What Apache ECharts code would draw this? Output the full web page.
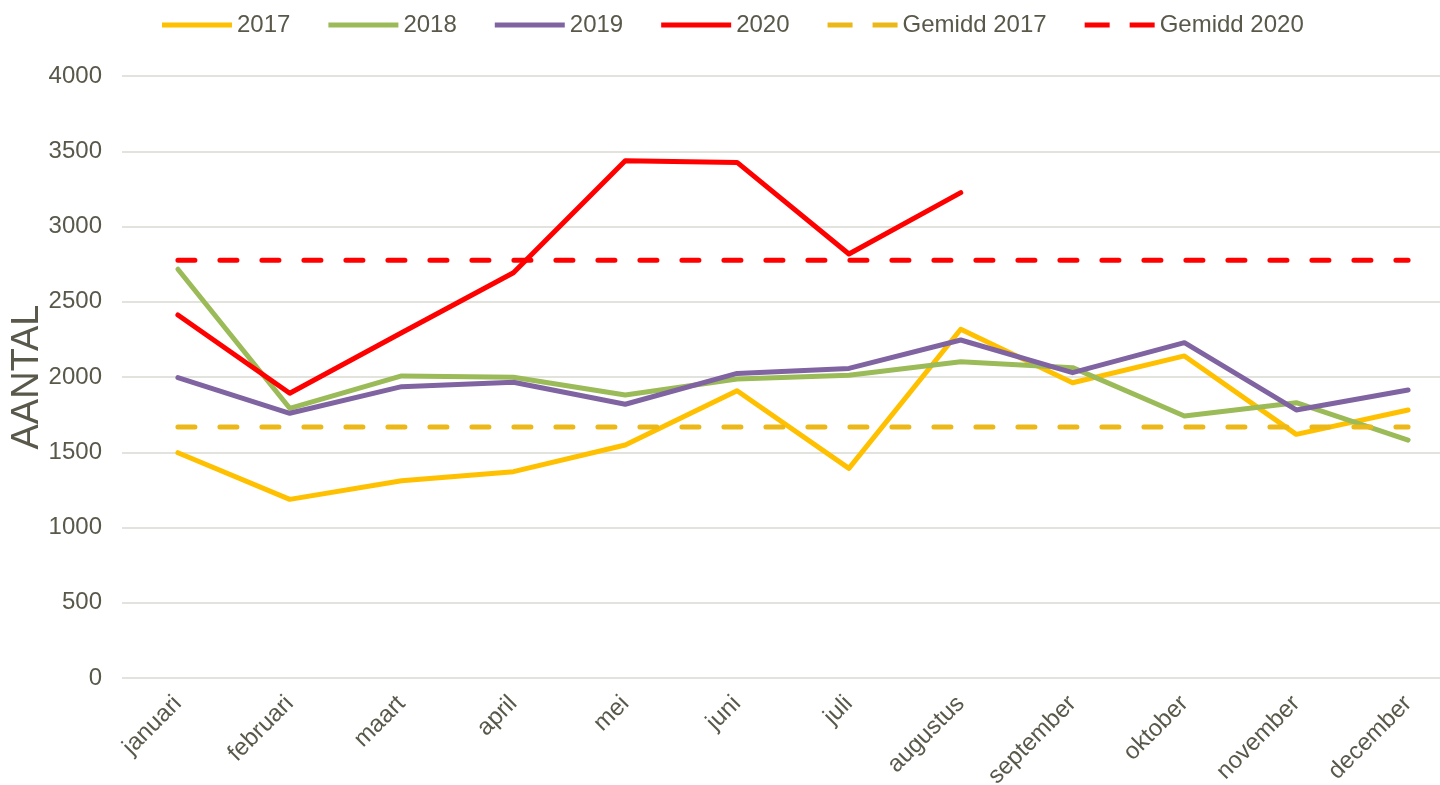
<!DOCTYPE html>
<html>
<head>
<meta charset="utf-8">
<script src="https://cdn.jsdelivr.net/npm/echarts@6/dist/echarts.min.js"></script>
<style>
  html, body { margin: 0; padding: 0; background: #fff; overflow: hidden; }
  /* de grafiek loopt rechts iets voorbij de rand, zoals in het origineel */
  #chart { width: 1464px; height: 785px; }
</style>
</head>
<body>
<div id="chart"></div>
<script>
// maanden en waarden
const months = ['januari', 'februari', 'maart', 'april', 'mei', 'juni', 'juli', 'augustus', 'september', 'oktober', 'november', 'december'];
const y2017 = [1497, 1187, 1311, 1371, 1548, 1909, 1393, 2317, 1962, 2140, 1619, 1781];
const y2018 = [2716, 1792, 2007, 1998, 1880, 1987, 2011, 2102, 2062, 1741, 1829, 1581];
const y2019 = [1996, 1759, 1936, 1965, 1819, 2024, 2057, 2246, 2029, 2228, 1781, 1914];
const y2020 = [2412, 1892, 2294, 2693, 3437, 3426, 2817, 3225];
const gem2017 = [1668, 1668, 1668, 1668, 1668, 1668, 1668, 1668, 1668, 1668, 1668, 1668];
const gem2020 = [2775, 2775, 2775, 2775, 2775, 2775, 2775, 2775, 2775, 2775, 2775, 2775];
const yTicks = { min: 0, max: 4000, interval: 500 };

const textColor = '#59584a';
const font = "'Liberation Sans', Arial, sans-serif";
const solidIcon = 'path://M0,0h70v5h-70z';
const dashIcon = 'path://M0,0h25v5h-25z M45,0h25v5h-25z';

function solid(name, data, color) {
  return {
    name, type: 'line', data, symbol: 'none', silent: true,
    lineStyle: { color, width: 5, cap: 'round', join: 'round' },
    itemStyle: { color }
  };
}
function dashed(name, data, color) {
  return {
    name, type: 'line', data, symbol: 'none', silent: true,
    lineStyle: { color, width: 5, type: [17, 25], cap: 'round' },
    itemStyle: { color }
  };
}

const chart = echarts.init(document.getElementById('chart'));
chart.setOption({
  animation: false,
  textStyle: { fontFamily: font },
  legend: {
    top: 8,
    left: 157,
    itemWidth: 70,
    itemHeight: 5,
    itemGap: 38,
    data: [
      { name: '2017', icon: solidIcon },
      { name: '2018', icon: solidIcon },
      { name: '2019', icon: solidIcon },
      { name: '2020', icon: solidIcon },
      { name: 'Gemidd 2017', icon: dashIcon },
      { name: 'Gemidd 2020', icon: dashIcon }
    ],
    textStyle: { color: textColor, fontSize: 24, fontFamily: font }
  },
  grid: { left: 122, right: 0, top: 76, bottom: 107, containLabel: false, outerBoundsMode: 'none' },
  xAxis: {
    type: 'category',
    data: months,
    boundaryGap: true,
    axisLine: { show: false },
    axisTick: { show: false },
    axisLabel: { rotate: 45, color: textColor, fontSize: 24, margin: 22, interval: 0, fontFamily: font }
  },
  yAxis: {
    type: 'value',
    min: yTicks.min, max: yTicks.max, interval: yTicks.interval,
    name: 'AANTAL',
    nameLocation: 'middle',
    nameGap: 75,
    nameMoveOverlap: false,
    nameTextStyle: { color: textColor, fontSize: 38, fontFamily: font },
    axisLine: { show: false },
    axisTick: { show: false },
    axisLabel: { color: textColor, fontSize: 24, margin: 20, fontFamily: font, formatter: v => String(v) },
    splitLine: { lineStyle: { color: '#e3e3dd', width: 2 } }
  },
  series: [
    solid('2017', y2017, '#FFC000'),
    solid('2018', y2018, '#9BBB59'),
    solid('2019', y2019, '#8064A2'),
    solid('2020', y2020, '#FF0000'),
    dashed('Gemidd 2017', gem2017, '#EBB818'),
    dashed('Gemidd 2020', gem2020, '#FF0000')
  ]
});
</script>
</body>
</html>
